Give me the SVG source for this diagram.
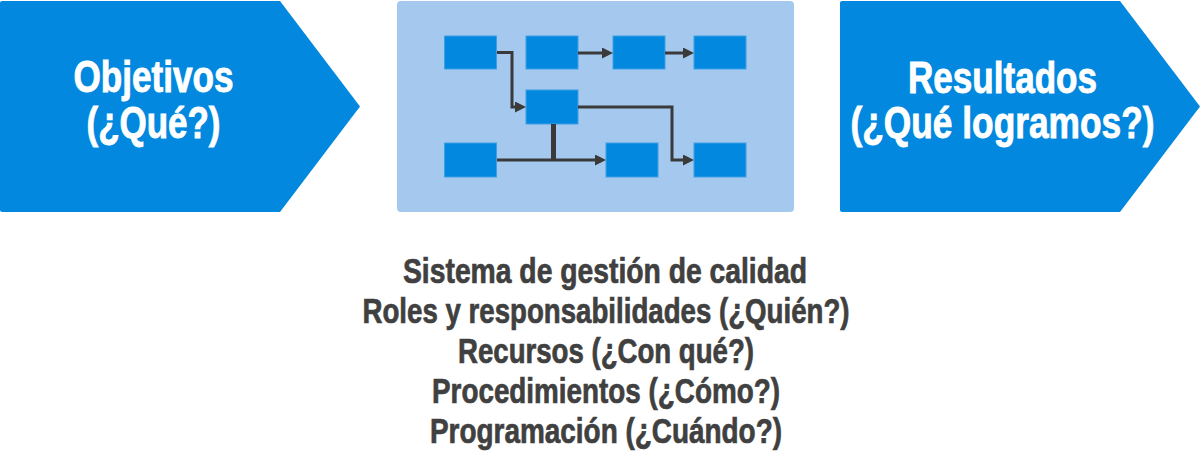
<svg xmlns="http://www.w3.org/2000/svg" width="1204" height="451" viewBox="0 0 1204 451">
  <style>
    .big { font-family: "Liberation Sans", Arial, sans-serif; font-weight: bold; font-size: 45px; fill: #ffffff; stroke: #ffffff; stroke-width: 0.9; }
    .sub { font-family: "Liberation Sans", Arial, sans-serif; font-weight: bold; font-size: 35px; fill: #404040; stroke: #404040; stroke-width: 0.7; }
    .box { fill: #0288de; stroke: #3e9fe4; stroke-width: 1; }
    .conn { fill: none; stroke: #3a3a3a; stroke-width: 3; }
  </style>
  <defs>
    <marker id="ah" viewBox="0 0 11 11" refX="0" refY="5.5" markerWidth="11" markerHeight="11" markerUnits="userSpaceOnUse" orient="auto">
      <path d="M0,0 L11,5.5 L0,11 z" fill="#3a3a3a"/>
    </marker>
  </defs>
  <rect width="1204" height="451" fill="#ffffff"/>

  <g id="objetivos">
    <path d="M2,1 H280 L360,106.5 L280,212 H2 Q0,212 0,210 V3 Q0,1 2,1 z" fill="#0288de"/>
    <text class="big" x="153.5" y="92" text-anchor="middle" textLength="160" lengthAdjust="spacingAndGlyphs">Objetivos</text>
    <text class="big" x="153.5" y="138" text-anchor="middle" textLength="134" lengthAdjust="spacingAndGlyphs">(¿Qué?)</text>
  </g>

  <g id="proceso">
    <rect x="397" y="1" width="397" height="211" rx="4" fill="#a5c9ee"/>
    <rect class="box" x="444.5" y="36" width="52" height="33"/>
    <rect class="box" x="526" y="36" width="52" height="33"/>
    <rect class="box" x="613" y="36" width="52" height="33"/>
    <rect class="box" x="694" y="36" width="52" height="33"/>
    <rect class="box" x="526" y="90" width="52" height="34"/>
    <rect class="box" x="444.5" y="143" width="52" height="34"/>
    <rect class="box" x="606" y="143" width="52" height="34"/>
    <rect class="box" x="694" y="143" width="52" height="34"/>
  </g>

  <g id="connectors">
    <path class="conn" d="M497,52.5 H512 V107 H515" marker-end="url(#ah)"/>
    <path class="conn" d="M578,53 H602" marker-end="url(#ah)"/>
    <path class="conn" d="M665,53 H683" marker-end="url(#ah)"/>
    <path class="conn" d="M578,107 H672 V160 H683" marker-end="url(#ah)"/>
    <path class="conn" d="M497,160 H595" marker-end="url(#ah)"/>
    <path class="conn" d="M553.5,124 V161" style="stroke-width:5"/>
  </g>

  <g id="resultados">
    <path d="M842,1 H1120 L1200,106.5 L1120,212 H842 Q840,212 840,210 V3 Q840,1 842,1 z" fill="#0288de"/>
    <text class="big" x="1002.5" y="93" text-anchor="middle" textLength="189" lengthAdjust="spacingAndGlyphs">Resultados</text>
    <text class="big" x="1002.5" y="138" text-anchor="middle" textLength="304" lengthAdjust="spacingAndGlyphs">(¿Qué logramos?)</text>
  </g>

  <g id="sistema">
    <text class="sub" x="605" y="283" text-anchor="middle" textLength="404" lengthAdjust="spacingAndGlyphs">Sistema de gestión de calidad</text>
    <text class="sub" x="606" y="323" text-anchor="middle" textLength="487" lengthAdjust="spacingAndGlyphs">Roles y responsabilidades (¿Quién?)</text>
    <text class="sub" x="606" y="363" text-anchor="middle" textLength="296" lengthAdjust="spacingAndGlyphs">Recursos (¿Con qué?)</text>
    <text class="sub" x="606" y="403" text-anchor="middle" textLength="348" lengthAdjust="spacingAndGlyphs">Procedimientos (¿Cómo?)</text>
    <text class="sub" x="606" y="443" text-anchor="middle" textLength="352" lengthAdjust="spacingAndGlyphs">Programación (¿Cuándo?)</text>
  </g>
</svg>
